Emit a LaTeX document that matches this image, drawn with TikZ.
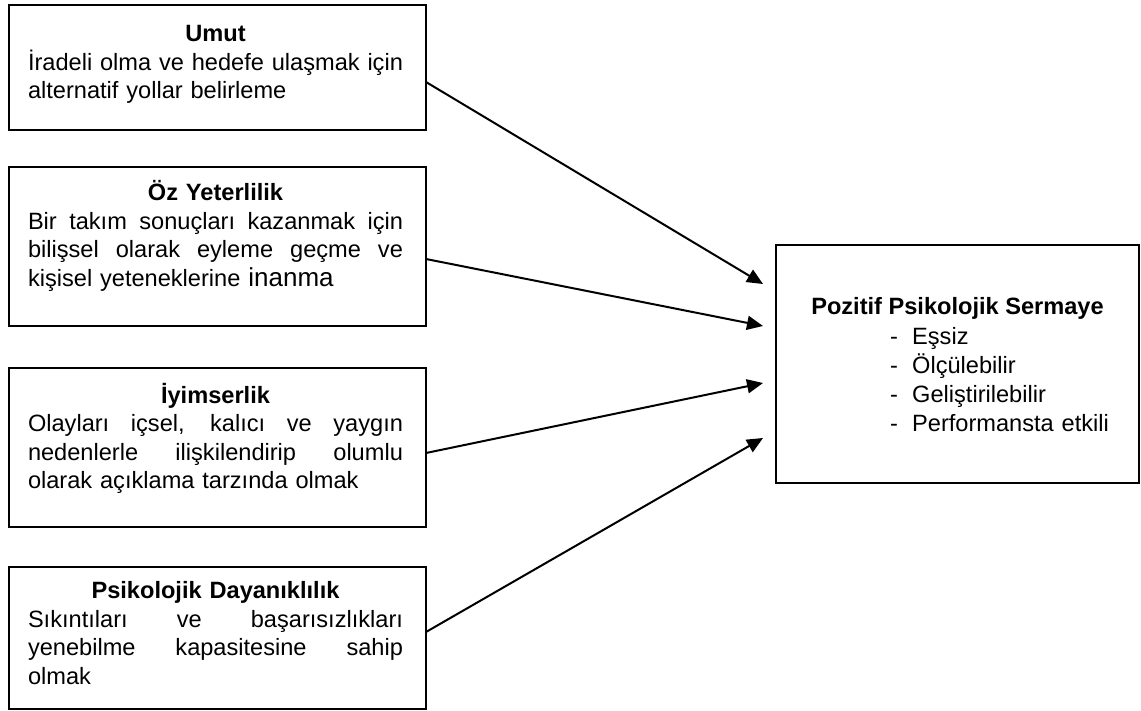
\documentclass[tikz,border=0pt]{standalone}
\usepackage{fontspec}
\setmainfont{Liberation Sans}
\usetikzlibrary{arrows.meta}
\tikzset{
  box/.style={draw=black, line width=1.5pt, rectangle, inner sep=0pt, outer sep=0pt, anchor=north west},
  txt/.style={inner sep=0pt, outer sep=0pt, anchor=north west, text width=375pt, align=left,
              font=\fontsize{23.6}{28.5}\selectfont},
  conn/.style={line width=2pt, -{Triangle[length=16pt,width=14pt]}}
}
\newcommand{\jline}[1]{\par\hbox to \hsize{\spaceskip=0.28em plus 3em\relax #1}}
\newcommand{\ttl}[1]{\par\hbox to \hsize{\hfil\bfseries\rule{0pt}{23pt}#1\hfil}}
\newcommand{\lline}[1]{\par\noindent #1\par}
\begin{document}
\begin{tikzpicture}[x=1pt,y=-1pt]
\useasboundingbox (0,0) rectangle (1141,711);
% left boxes
\node[box, minimum width=417pt, minimum height=125pt] (b1) at (9,5) {};
\node[box, minimum width=417pt, minimum height=159pt] (b2) at (9,167) {};
\node[box, minimum width=417pt, minimum height=159pt] (b3) at (9,368) {};
\node[box, minimum width=417pt, minimum height=142pt] (b4) at (9,567) {};
% right box
\node[box, minimum width=363pt, minimum height=238pt] (r) at (776,245) {};
% texts
\node[txt] (t1) at (28,13.5) {\ttl{Umut}\jline{İradeli olma ve hedefe ulaşmak için}\lline{alternatif yollar belirleme}};
\node[txt] (t2) at (28,172.5) {\ttl{Öz Yeterlilik}\jline{Bir takım sonuçları kazanmak için}\jline{bilişsel olarak eyleme geçme ve}\lline{kişisel yeteneklerine {\fontsize{26}{28.5}\selectfont inanma}}};
\node[txt] (t3) at (28,374.5) {\ttl{İyimserlik}\jline{Olayları içsel, kalıcı ve yaygın}\jline{nedenlerle ilişkilendirip olumlu}\lline{olarak açıklama tarzında olmak}};
\node[txt] (t4) at (28,570) {\ttl{Psikolojik Dayanıklılık}\jline{Sıkıntıları ve başarısızlıkları}\jline{yenebilme kapasitesine sahip}\lline{olmak}};
% right texts
\node[inner sep=0pt, anchor=base, font=\fontsize{23.6}{29}\selectfont\bfseries] (rt) at (957.5,315) {Pozitif Psikolojik Sermaye};
\node[inner sep=0pt, anchor=north west, text width=240pt, align=left, font=\fontsize{23.6}{29}\selectfont] (rl) at (890,315)
 {\lline{\rule{0pt}{23pt}\makebox[22pt][l]{-}Eşsiz}\lline{\makebox[22pt][l]{-}Ölçülebilir}\lline{\makebox[22pt][l]{-}Geliştirilebilir}\lline{\makebox[22pt][l]{-}Performansta etkili}};
% arrow ends
\coordinate (e1) at (763,284);
\coordinate (e2) at (763,326);
\coordinate (e3) at (763,383);
\coordinate (e4) at (763,438);
\draw[conn] ([yshift=-14.5pt]b1.east) -- (e1);
\draw[conn] ([yshift=-12.5pt]b2.east) -- (e2);
\draw[conn] ([yshift=-5.5pt]b3.east) -- (e3);
\draw[conn] ([yshift=6pt]b4.east) -- (e4);
\end{tikzpicture}
\end{document}
